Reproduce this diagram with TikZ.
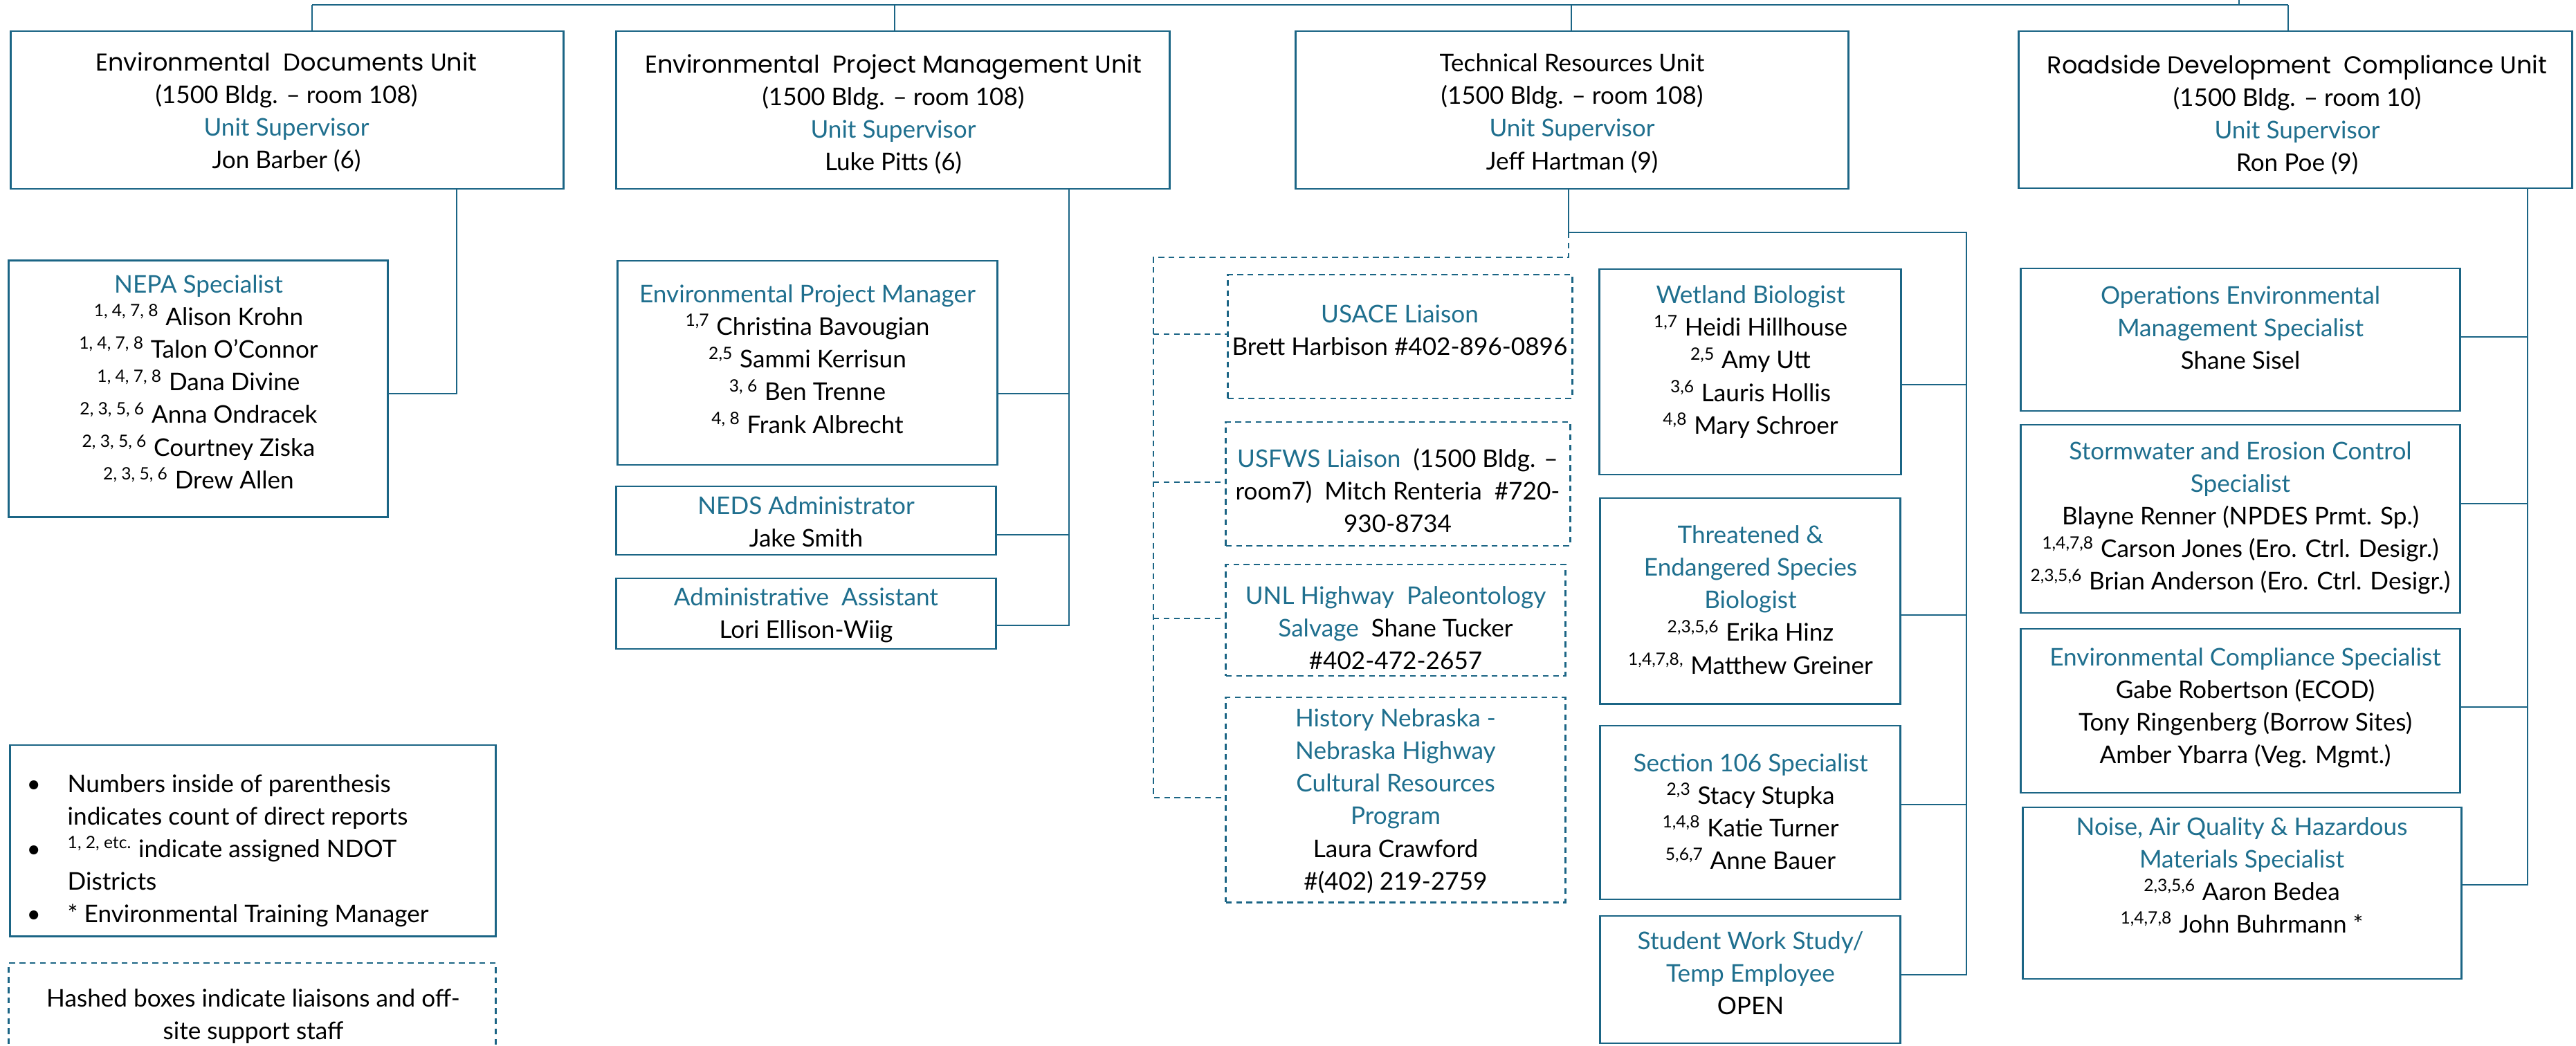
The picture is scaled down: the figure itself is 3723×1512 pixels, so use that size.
\documentclass[tikz,border=0pt]{standalone}
\usepackage{fontspec}
\setmainfont{Lato}
\newfontfamily\unitfont{Poppins}
\usepackage{tikz}
\pgfdeclarelayer{nodelayer}
\pgfdeclarelayer{edgelayer}
\pgfsetlayers{edgelayer,nodelayer,main}
\definecolor{linkblue}{HTML}{1B6585}
\definecolor{unitblue}{HTML}{1F6F8E}
\newcommand{\job}[1]{\textcolor{unitblue}{#1}}
\newcommand{\dists}[1]{\textsuperscript{#1}}
\tikzset{
	box/.style={draw=linkblue, line width=0.8pt, inner sep=0pt, rectangle},
	hashbox/.style={box, dash pattern=on 2.4pt off 1.8pt},
	link/.style={draw=linkblue, line width=0.8pt},
	hashlink/.style={link, dash pattern=on 2.4pt off 1.8pt},
	txt/.style={align=center, inner sep=0pt, font=\fontsize{10}{13.4}\selectfont}
}

\begin{document}
\begin{tikzpicture}[x=0.01cm, y=-0.01cm]
	\useasboundingbox (0, 0) rectangle (3723, 1512);
	\begin{pgfonlayer}{nodelayer}
		% unit boxes
		\node [box, minimum width=7.98cm, minimum height=2.28cm] (1) at (415, 159) {};
		\node [box, minimum width=7.99cm, minimum height=2.28cm] (2) at (1290.5, 159) {};
		\node [box, minimum width=7.98cm, minimum height=2.28cm] (3) at (2272, 159) {};
		\node [box, minimum width=7.99cm, minimum height=2.27cm] (4) at (3317.5, 158.5) {};
		% staff boxes
		\node [box, minimum width=5.47cm, minimum height=3.70cm] (5) at (286.5, 562) {};
		\node [box, minimum width=5.48cm, minimum height=2.95cm] (6) at (1167, 524.5) {};
		\node [box, minimum width=5.48cm, minimum height=0.99cm] (7) at (1165, 752.5) {};
		\node [box, minimum width=5.48cm, minimum height=1.02cm] (8) at (1165, 887) {};
		\node [hashbox, minimum width=4.97cm, minimum height=1.79cm] (9) at (2023.5, 486.5) {};
		\node [hashbox, minimum width=4.97cm, minimum height=1.79cm] (10) at (2020.5, 699.5) {};
		\node [hashbox, minimum width=4.90cm, minimum height=1.61cm] (11) at (2017, 896.5) {};
		\node [hashbox, minimum width=4.90cm, minimum height=2.96cm] (12) at (2017, 1156) {};
		\node [box, minimum width=4.35cm, minimum height=2.97cm] (13) at (2529.5, 537.5) {};
		\node [box, minimum width=4.33cm, minimum height=2.97cm] (14) at (2529.5, 868.5) {};
		\node [box, minimum width=4.33cm, minimum height=2.51cm] (15) at (2529.5, 1174.5) {};
		\node [box, minimum width=4.33cm, minimum height=1.84cm] (16) at (2529.5, 1416) {};
		\node [box, minimum width=6.34cm, minimum height=2.06cm] (17) at (3238, 491) {};
		\node [box, minimum width=6.34cm, minimum height=2.72cm] (18) at (3238, 750) {};
		\node [box, minimum width=6.34cm, minimum height=2.37cm] (19) at (3238, 1027.5) {};
		\node [box, minimum width=6.33cm, minimum height=2.48cm] (20) at (3240.5, 1291) {};
		% legend boxes
		\node [box, minimum width=7.01cm, minimum height=2.76cm] (21) at (365.5, 1215) {};
		\node [hashbox, minimum width=7.03cm, minimum height=1.53cm] (22) at (364.5, 1468.5) {};
		% junctions
		\node [] (30) at (451, 7) {};
		\node [] (31) at (1293, 7) {};
		\node [] (32) at (2271, 7) {};
		\node [] (33) at (3307, 7) {};
		\node [] (34) at (3236, 7) {};
		\node [] (35) at (3236, -5) {};
		\node [] (36) at (660, 569) {};
		\node [] (37) at (1545, 904) {};
		\node [] (38) at (1545, 569) {};
		\node [] (39) at (1545, 773) {};
		\node [] (40) at (2267, 336) {};
		\node [] (41) at (2842, 336) {};
		\node [] (42) at (2842, 1409) {};
		\node [] (43) at (2842, 556) {};
		\node [] (44) at (2842, 889) {};
		\node [] (45) at (2842, 1163) {};
		\node [] (46) at (2267, 372) {};
		\node [] (47) at (1667, 372) {};
		\node [] (48) at (1667, 1153) {};
		\node [] (49) at (1667, 483) {};
		\node [] (50) at (1667, 697) {};
		\node [] (51) at (1667, 894) {};
		\node [] (52) at (3653, 1279) {};
		\node [] (53) at (3653, 487) {};
		\node [] (54) at (3653, 728) {};
		\node [] (55) at (3653, 1022) {};
		% texts
		\node [txt] (56) at (414, 162) {{\unitfont Environmental\ \ Documents Unit}\\(1500 Bldg. – room 108)\\\job{Unit Supervisor}\\Jon Barber (6)};
		\node [txt] (57) at (1291, 165) {{\unitfont Environmental\ \ Project Management Unit}\\(1500 Bldg. – room 108)\\\job{Unit Supervisor}\\Luke Pitts (6)};
		\node [txt] (58) at (2272, 164) {Technical Resources Unit\\(1500 Bldg. – room 108)\\\job{Unit Supervisor}\\Jeff Hartman (9)};
		\node [txt] (59) at (3320, 166) {{\unitfont Roadside Development\ \ Compliance Unit}\\(1500 Bldg. – room 10)\\\job{Unit Supervisor}\\Ron Poe (9)};
		\node [txt] (60) at (287, 552) {\job{NEPA Specialist}\\\dists{1, 4, 7, 8} Alison Krohn\\\dists{1, 4, 7, 8} Talon O’Connor\\\dists{1, 4, 7, 8} Dana Divine\\\dists{2, 3, 5, 6} Anna Ondracek\\\dists{2, 3, 5, 6} Courtney Ziska\\\dists{2, 3, 5, 6} Drew Allen};
		\node [txt] (61) at (1167, 519) {\job{Environmental Project Manager}\\\dists{1,7} Christina Bavougian\\\dists{2,5} Sammi Kerrisun\\\dists{3, 6} Ben Trenne\\\dists{4, 8} Frank Albrecht};
		\node [txt] (62) at (1165, 754) {\job{NEDS Administrator}\\Jake Smith};
		\node [txt] (63) at (1165, 889) {\job{Administrative\ \ Assistant}\\Lori Ellison-Wiig};
		\node [txt] (64) at (2023, 477) {\job{USACE Liaison}\\Brett Harbison \#402-896-0896};
		\node [txt] (65) at (2020, 709) {\job{USFWS Liaison}\ \ (1500 Bldg. –\\room7)\ \ Mitch Renteria\ \ \#720-\\930-8734};
		\node [txt] (66) at (2017, 908) {\job{UNL Highway\ \ Paleontology}\\\job{Salvage}\ \ Shane Tucker\\\#402-472-2657};
		\node [txt] (67) at (2017, 1158) {\job{History Nebraska -}\\\job{Nebraska Highway}\\\job{Cultural Resources}\\\job{Program}\\Laura Crawford\\\#(402) 219-2759};
		\node [txt] (68) at (2530, 523) {\job{Wetland Biologist}\\\dists{1,7} Heidi Hillhouse\\\dists{2,5} Amy Utt\\\dists{3,6} Lauris Hollis\\\dists{4,8} Mary Schroer};
		\node [txt] (69) at (2530, 867) {\job{Threatened \&}\\\job{Endangered Species}\\\job{Biologist}\\\dists{2,3,5,6} Erika Hinz\\\dists{1,4,7,8,} Matthew Greiner};
		\node [txt] (70) at (2530, 1173) {\job{Section 106 Specialist}\\\dists{2,3} Stacy Stupka\\\dists{1,4,8} Katie Turner\\\dists{5,6,7} Anne Bauer};
		\node [txt] (71) at (2530, 1407) {\job{Student Work Study/}\\\job{Temp Employee}\\OPEN};
		\node [txt] (72) at (3238, 474) {\job{Operations Environmental}\\\job{Management Specialist}\\Shane Sisel};
		\node [txt] (73) at (3238, 749) {\job{Stormwater and Erosion Control}\\\job{Specialist}\\Blayne Renner (NPDES Prmt. Sp.)\\\dists{1,4,7,8} Carson Jones (Ero. Ctrl. Desigr.)\\\dists{2,3,5,6} Brian Anderson (Ero. Ctrl. Desigr.)};
		\node [txt] (74) at (3245, 1023) {\job{Environmental Compliance Specialist}\\Gabe Robertson (ECOD)\\Tony Ringenberg (Borrow Sites)\\Amber Ybarra (Veg. Mgmt.)};
		\node [txt] (75) at (3240, 1265) {\job{Noise, Air Quality \& Hazardous}\\\job{Materials Specialist}\\\dists{2,3,5,6} Aaron Bedea\\\dists{1,4,7,8} John Buhrmann *};
		\node [txt, align=left, anchor=west] (76) at (38, 1230) {\begin{tabular}{@{}p{0.59cm}@{}l@{}}\textbullet & Numbers inside of parenthesis\\ & indicates count of direct reports\\\textbullet & \dists{1, 2, etc.} indicate assigned NDOT\\ & Districts\\\textbullet & * Environmental Training Manager\end{tabular}};
		\node [txt] (77) at (366, 1469) {Hashed boxes indicate liaisons and off-\\site support staff};
	\end{pgfonlayer}
	\begin{pgfonlayer}{edgelayer}
		\draw [link] (30.center) to (33.center);
		\draw [link] (35.center) to (34.center);
		\draw [link] (30.center) to (30.center |- 1.north);
		\draw [link] (31.center) to (31.center |- 2.north);
		\draw [link] (32.center) to (32.center |- 3.north);
		\draw [link] (33.center) to (33.center |- 4.north);
		\draw [link] (36.center |- 1.south) to (36.center) to (36.center -| 5.east);
		\draw [link] (37.center |- 2.south) to (37.center) to (37.center -| 8.east);
		\draw [link] (38.center) to (38.center -| 6.east);
		\draw [link] (39.center) to (39.center -| 7.east);
		\draw [link] (40.center |- 3.south) to (40.center) to (41.center) to (42.center) to (42.center -| 16.east);
		\draw [link] (43.center) to (43.center -| 13.east);
		\draw [link] (44.center) to (44.center -| 14.east);
		\draw [link] (45.center) to (45.center -| 15.east);
		\draw [hashlink] (40.center) to (46.center) to (47.center) to (48.center) to (48.center -| 12.west);
		\draw [hashlink] (49.center) to (49.center -| 9.west);
		\draw [hashlink] (50.center) to (50.center -| 10.west);
		\draw [hashlink] (51.center) to (51.center -| 11.west);
		\draw [link] (52.center |- 4.south) to (52.center) to (52.center -| 20.east);
		\draw [link] (53.center) to (53.center -| 17.east);
		\draw [link] (54.center) to (54.center -| 18.east);
		\draw [link] (55.center) to (55.center -| 19.east);
	\end{pgfonlayer}
\end{tikzpicture}
\end{document}
